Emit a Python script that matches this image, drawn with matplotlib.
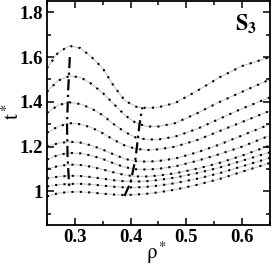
import numpy as np
from matplotlib import pyplot as plt
from matplotlib.ticker import MultipleLocator
plt.rcParams['mathtext.fontset'] = 'stix'

# isotherms t*(rho*)
rho = [0.25, 0.27, 0.29, 0.31, 0.33, 0.35, 0.37, 0.39, 0.41, 0.43, 0.45, 0.48, 0.52, 0.56, 0.60, 0.65]

t_1 = [1.550, 1.620, 1.650, 1.640, 1.600, 1.550, 1.470, 1.405, 1.378, 1.372, 1.376, 1.395, 1.450, 1.510, 1.560, 1.600]
t_2 = [1.445, 1.495, 1.515, 1.510, 1.480, 1.440, 1.390, 1.340, 1.305, 1.290, 1.290, 1.305, 1.350, 1.400, 1.445, 1.500]
t_3 = [1.350, 1.385, 1.398, 1.390, 1.370, 1.340, 1.300, 1.265, 1.240, 1.232, 1.232, 1.245, 1.280, 1.325, 1.370, 1.420]
t_4 = [1.262, 1.290, 1.305, 1.300, 1.285, 1.260, 1.230, 1.205, 1.190, 1.185, 1.188, 1.200, 1.230, 1.270, 1.310, 1.360]
t_5 = [1.200, 1.215, 1.222, 1.218, 1.205, 1.187, 1.165, 1.145, 1.135, 1.133, 1.136, 1.147, 1.175, 1.210, 1.250, 1.300]
t_6 = [1.142, 1.163, 1.172, 1.170, 1.160, 1.145, 1.125, 1.108, 1.099, 1.098, 1.101, 1.112, 1.137, 1.167, 1.200, 1.250]
t_7 = [1.100, 1.113, 1.120, 1.118, 1.110, 1.098, 1.085, 1.073, 1.067, 1.067, 1.071, 1.081, 1.102, 1.128, 1.160, 1.205]
t_8 = [1.058, 1.066, 1.070, 1.069, 1.064, 1.057, 1.050, 1.045, 1.044, 1.046, 1.051, 1.062, 1.082, 1.107, 1.137, 1.175]
t_9 = [1.022, 1.030, 1.034, 1.034, 1.031, 1.026, 1.021, 1.018, 1.018, 1.021, 1.026, 1.037, 1.057, 1.082, 1.112, 1.150]
t_10 = [0.978, 0.992, 0.998, 0.998, 0.995, 0.990, 0.986, 0.984, 0.986, 0.990, 0.996, 1.008, 1.030, 1.056, 1.088, 1.127]
curves = [t_1, t_2, t_3, t_4, t_5, t_6, t_7, t_8, t_9, t_10]

# loci of maxima / minima (dash-dot lines)
max_rho = [0.291, 0.288, 0.286, 0.287, 0.290]
max_t = [1.60, 1.45, 1.30, 1.15, 1.02]
min_rho = [0.389, 0.400, 0.409, 0.416, 0.421]
min_t = [0.98, 1.04, 1.15, 1.30, 1.375]

xticks = [0.3, 0.4, 0.5, 0.6]
xticklabels = ["0.3", "0.4", "0.5", "0.6"]
yticks = [1.0, 1.2, 1.4, 1.6, 1.8]
yticklabels = ["1", "1.2", "1.4", "1.6", "1.8"]

mydpi = 100
fig = plt.figure(figsize=(273/mydpi, 266/mydpi), dpi=mydpi)
ax = fig.add_axes([0.172, 0.154, 0.817, 0.842])

for t in curves:
    ax.plot(rho, t, color="#c8c8c8", lw=0.8, zorder=1)
    ax.plot(rho, t, color="black", lw=1.5, linestyle=(0, (1, 3)), zorder=2)

dashdot = (0, (5, 2, 1, 2))
ax.plot(max_rho, max_t, color="black", lw=1.6, linestyle=dashdot, zorder=3)
ax.plot(min_rho, min_t, color="black", lw=1.6, linestyle=dashdot, zorder=3)

ax.set_xlim(0.25, 0.65)
ax.set_ylim(0.85, 1.85)
ax.set_xticks(xticks)
ax.set_xticklabels(xticklabels)
ax.set_yticks(yticks)
ax.set_yticklabels(yticklabels)
ax.xaxis.set_minor_locator(MultipleLocator(0.05))
ax.yaxis.set_minor_locator(MultipleLocator(0.1))
ax.tick_params(which="both", direction="in", top=True, right=True, width=1.1)
ax.tick_params(which="major", length=5, pad=3)
ax.tick_params(which="minor", length=3)
for lab in ax.get_xticklabels() + ax.get_yticklabels():
    lab.set_fontfamily("Liberation Serif")
    lab.set_fontweight("bold")
    lab.set_fontsize(13.5)
for sp in ax.spines.values():
    sp.set_linewidth(1.3)

# axis titles placed by hand, like the original
fig.text(157/273, 1 - 253/266, r"$\mathrm{\rho}^*$", fontsize=15, ha="center", va="center")
fig.text(12/273, 1 - 112/266, r"$\mathrm{t}^*$", fontsize=15, ha="center", va="center",
         rotation=90)
ax.text(0.94, 0.90, r"$\mathbf{S}_\mathbf{3}$", transform=ax.transAxes, ha="right",
        va="center", fontsize=16)

plt.savefig("out.png", dpi=mydpi)
